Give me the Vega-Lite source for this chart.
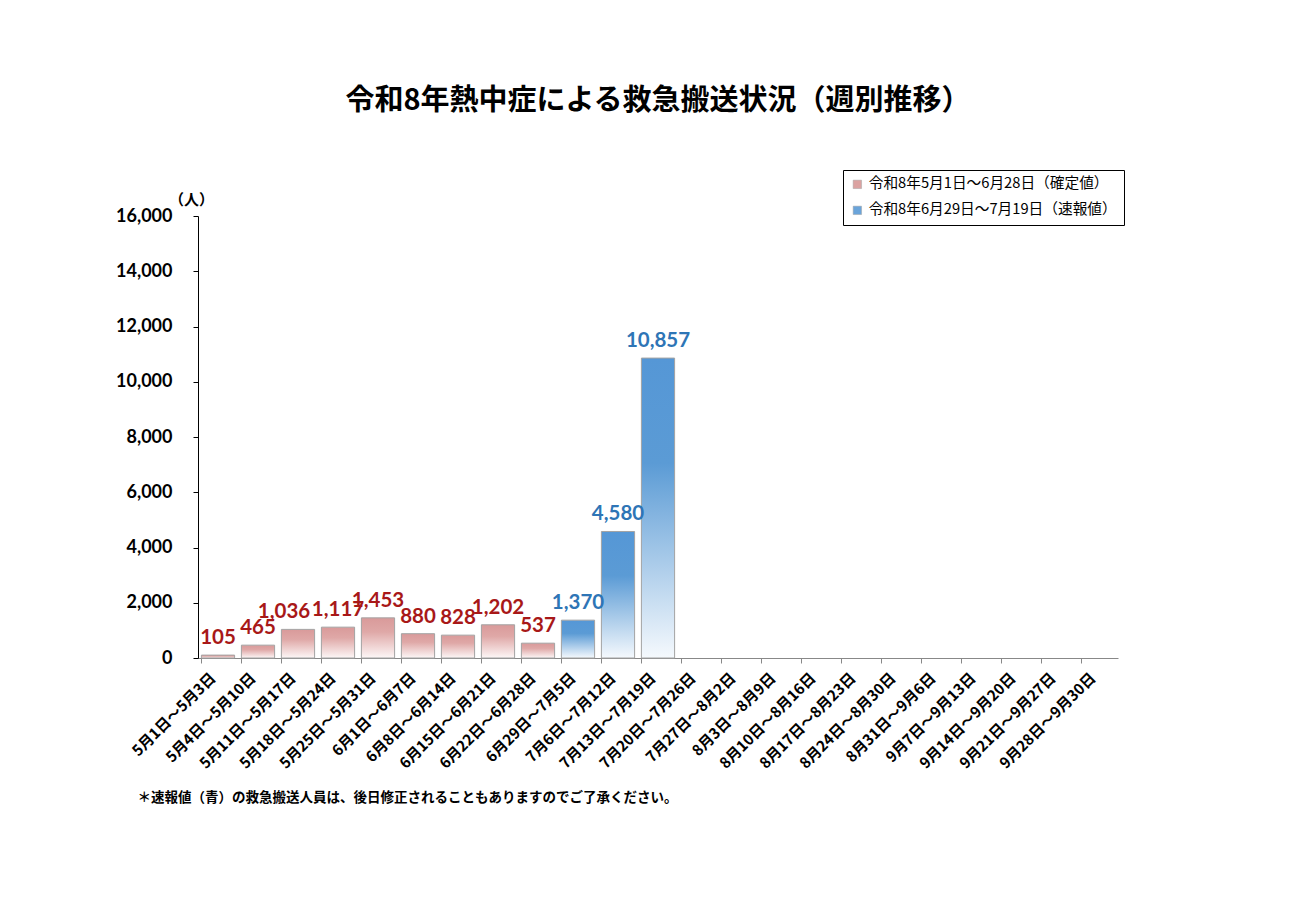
{
  "$schema": "https://vega.github.io/schema/vega-lite/v6.json",
  "width": 920,
  "height": 442,
  "autosize": "none",
  "padding": {"left": 198, "top": 216, "right": 178, "bottom": 248},
  "background": "white",
  "config": {"view": {"stroke": null}},
  "title": {
    "text": "令和8年熱中症による救急搬送状況（週別推移）",
    "font": "Noto Sans CJK JP",
    "fontSize": 29,
    "fontWeight": "bold",
    "color": "black",
    "anchor": "middle",
    "offset": 54
  },
  "data": {
    "values": [
      {"week": "5月1日～5月3日", "count": 105, "series": "令和8年5月1日～6月28日（確定値）"},
      {"week": "5月4日～5月10日", "count": 465, "series": "令和8年5月1日～6月28日（確定値）"},
      {"week": "5月11日～5月17日", "count": 1036, "series": "令和8年5月1日～6月28日（確定値）"},
      {"week": "5月18日～5月24日", "count": 1117, "series": "令和8年5月1日～6月28日（確定値）"},
      {"week": "5月25日～5月31日", "count": 1453, "series": "令和8年5月1日～6月28日（確定値）"},
      {"week": "6月1日～6月7日", "count": 880, "series": "令和8年5月1日～6月28日（確定値）"},
      {"week": "6月8日～6月14日", "count": 828, "series": "令和8年5月1日～6月28日（確定値）"},
      {"week": "6月15日～6月21日", "count": 1202, "series": "令和8年5月1日～6月28日（確定値）"},
      {"week": "6月22日～6月28日", "count": 537, "series": "令和8年5月1日～6月28日（確定値）"},
      {"week": "6月29日～7月5日", "count": 1370, "series": "令和8年6月29日～7月19日（速報値）"},
      {"week": "7月6日～7月12日", "count": 4580, "series": "令和8年6月29日～7月19日（速報値）"},
      {"week": "7月13日～7月19日", "count": 10857, "series": "令和8年6月29日～7月19日（速報値）"},
      {"week": "7月20日～7月26日", "count": null, "series": null},
      {"week": "7月27日～8月2日", "count": null, "series": null},
      {"week": "8月3日～8月9日", "count": null, "series": null},
      {"week": "8月10日～8月16日", "count": null, "series": null},
      {"week": "8月17日～8月23日", "count": null, "series": null},
      {"week": "8月24日～8月30日", "count": null, "series": null},
      {"week": "8月31日～9月6日", "count": null, "series": null},
      {"week": "9月7日～9月13日", "count": null, "series": null},
      {"week": "9月14日～9月20日", "count": null, "series": null},
      {"week": "9月21日～9月27日", "count": null, "series": null},
      {"week": "9月28日～9月30日", "count": null, "series": null}
    ]
  },
  "encoding": {
    "x": {
      "field": "week",
      "type": "nominal",
      "sort": null,
      "scale": {
        "domain": [
          "5月1日～5月3日", "5月4日～5月10日", "5月11日～5月17日", "5月18日～5月24日",
          "5月25日～5月31日", "6月1日～6月7日", "6月8日～6月14日", "6月15日～6月21日",
          "6月22日～6月28日", "6月29日～7月5日", "7月6日～7月12日", "7月13日～7月19日",
          "7月20日～7月26日", "7月27日～8月2日", "8月3日～8月9日", "8月10日～8月16日",
          "8月17日～8月23日", "8月24日～8月30日", "8月31日～9月6日", "9月7日～9月13日",
          "9月14日～9月20日", "9月21日～9月27日", "9月28日～9月30日"
        ],
        "paddingInner": 0.17,
        "paddingOuter": 0.085
      },
      "axis": {
        "title": "＊速報値（青）の救急搬送人員は、後日修正されることもありますのでご了承ください。",
        "titleX": -61,
        "titleY": 139,
        "titleAlign": "left",
        "titleBaseline": "middle",
        "titleFont": "Noto Sans CJK JP",
        "titleFontSize": 13.5,
        "titleFontWeight": "bold",
        "titleColor": "black",
        "bandPosition": 0,
        "labelOffset": -5,
        "labelAngle": -45,
        "labelAlign": "right",
        "labelBaseline": "middle",
        "labelPadding": 12,
        "labelFont": "Noto Sans CJK JP",
        "labelFontSize": 15,
        "labelFontWeight": "bold",
        "labelColor": "black",
        "labelOverlap": false,
        "domainColor": "#888888",
        "tickColor": "#888888",
        "tickSize": 5
      }
    },
    "y": {
      "field": "count",
      "type": "quantitative",
      "scale": {"domain": [0, 16000], "nice": false},
      "axis": {
        "values": [0, 2000, 4000, 6000, 8000, 10000, 12000, 14000, 16000],
        "format": ",.0f",
        "grid": false,
        "title": "（人）",
        "titleAngle": 0,
        "titleX": -7,
        "titleY": -17,
        "titleAlign": "center",
        "titleBaseline": "middle",
        "titleFont": "Noto Sans CJK JP",
        "titleFontSize": 15,
        "titleFontWeight": "bold",
        "titleColor": "black",
        "labelFont": "Lato",
        "labelFontSize": 18,
        "labelFontWeight": "bold",
        "labelColor": "black",
        "labelPadding": 21,
        "domainColor": "black",
        "tickColor": "black",
        "tickSize": 5
      }
    }
  },
  "layer": [
    {
      "mark": {"type": "bar", "stroke": "#a3a3a3", "strokeWidth": 1},
      "encoding": {
        "color": {
          "condition": {
            "test": "indexof(datum.series, '速報値') >= 0",
            "value": {"gradient": "linear", "x1": 0, "y1": 0, "x2": 0, "y2": 1,
              "stops": [{"offset": 0, "color": "#5597d6"}, {"offset": 0.35, "color": "#5b9bd5"}, {"offset": 1, "color": "#f5f9fd"}]}
          },
          "value": {"gradient": "linear", "x1": 0, "y1": 0, "x2": 0, "y2": 1,
            "stops": [{"offset": 0, "color": "#d99a9a"}, {"offset": 0.35, "color": "#dfa8a7"}, {"offset": 1, "color": "#fdf7f7"}]}
        }
      }
    },
    {
      "transform": [{"filter": "false"}],
      "mark": {"type": "square"},
      "encoding": {
        "color": {
          "field": "series",
          "type": "nominal",
          "scale": {
            "domain": ["令和8年5月1日～6月28日（確定値）", "令和8年6月29日～7月19日（速報値）"],
            "range": ["#dba2a1", "#6aa4da"]
          },
          "legend": {
            "title": null,
            "orient": "none",
            "legendX": 645,
            "legendY": -46,
            "direction": "vertical",
            "padding": 7,
            "strokeColor": "black",
            "fillColor": "white",
            "symbolType": "square",
            "symbolSize": 70,
            "symbolStrokeColor": "#a3a3a3",
            "symbolStrokeWidth": 0.5,
            "symbolOpacity": 1,
            "rowPadding": 10,
            "labelFont": "Noto Sans CJK JP",
            "labelFontSize": 14.7,
            "labelColor": "black",
            "labelLimit": 400
          }
        }
      }
    },
    {
      "transform": [{"filter": "datum.week != '5月11日～5月17日'"}],
      "mark": {
        "type": "text",
        "baseline": "bottom",
        "dy": -7,
        "font": "Lato",
        "fontSize": 20.5,
        "fontWeight": "bold"
      },
      "encoding": {
        "text": {"field": "count", "type": "quantitative", "format": ","},
        "color": {
          "condition": {"test": "indexof(datum.series, '速報値') >= 0", "value": "#2e75b6"},
          "value": "#a81818"
        }
      }
    },
    {
      "transform": [{"filter": "datum.week == '5月11日～5月17日'"}],
      "mark": {
        "type": "text",
        "baseline": "bottom",
        "dy": -7,
        "dx": -14,
        "font": "Lato",
        "fontSize": 20.5,
        "fontWeight": "bold",
        "color": "#a81818"
      },
      "encoding": {
        "text": {"field": "count", "type": "quantitative", "format": ","}
      }
    }
  ]
}
